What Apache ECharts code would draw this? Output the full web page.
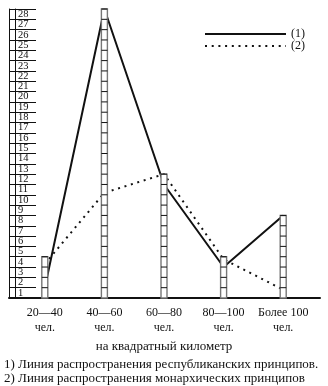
<!DOCTYPE html>
<html>
<head>
<meta charset="utf-8">
<script src="https://cdn.jsdelivr.net/npm/echarts@6/dist/echarts.min.js"></script>
<style>html,body{margin:0;padding:0;background:#fff}#c{width:328px;height:386px}</style>
</head>
<body>
<div id="c"></div>
<script>
// ---- data ----
const categories = ['20—40\nчел.', '40—60\nчел.', '60—80\nчел.', '80—100\nчел.', 'Более 100\nчел.'];
const cellCounts = [4, 28, 12, 4, 8];
const republicanLine = [1, 28, 11, 3, 8];
const monarchicLine = [3.3, 10.2, 12, 3.75, 0.8];
const yMin = 0, yMax = 28, yStep = 1;
const yTickLabels = ['1', '2', '3', '4', '5', '6', '7', '8', '9', '10', '11', '12', '13', '14',
  '15', '16', '17', '18', '19', '20', '21', '22', '23', '24', '25', '26', '27', '28'];
const seriesNames = ['(1)', '(2)'];
const xAxisTitle = 'на квадратный километр';
const notes = '1) Линия распространения республиканских принципов.\n2) Линия распространения монархических принципов';

const SERIF = '"Liberation Serif", "DejaVu Serif", serif';
const chart = echarts.init(document.getElementById('c'), null, {renderer: 'canvas'});

function renderCells(params, api) {
  const idx = api.value(0);
  const n = api.value(1);
  const w = 6;
  const children = [];
  const base = api.coord([idx, 0]);
  const top = api.coord([idx, n]);
  children.push({type: 'rect', shape: {x: base[0] - w / 2, y: top[1], width: w, height: base[1] - top[1]},
    style: {fill: '#fff', stroke: '#777', lineWidth: 1.4}});
  for (let k = 1; k < n; k++) {
    const p = api.coord([idx, k]);
    children.push({type: 'line', shape: {x1: p[0] - w / 2, y1: p[1], x2: p[0] + w / 2, y2: p[1]},
      style: {stroke: '#111', lineWidth: 1}});
  }
  children.push({type: 'line', shape: {x1: top[0] - w / 2, y1: top[1], x2: top[0] + w / 2, y2: top[1]},
    style: {stroke: '#111', lineWidth: 1}});
  return {type: 'group', children: children};
}

const option = {
  animation: false,
  backgroundColor: '#fff',
  title: {
    text: notes,
    left: -1, top: 353,
    textStyle: {fontFamily: SERIF, fontSize: 13, fontWeight: 'normal', color: '#111', lineHeight: 14}
  },
  legend: {
    orient: 'vertical',
    left: 199, top: 23,
    itemWidth: 81, itemHeight: 10, itemGap: 0,
    data: seriesNames,
    itemStyle: {color: 'rgba(0,0,0,0)', borderWidth: 0, opacity: 0},
    textStyle: {fontFamily: SERIF, fontSize: 12, color: '#111', lineHeight: 10, padding: [0, 0, 0, 0]},
    selectedMode: false
  },
  grid: [
    {left: 9, right: 8, top: 9, bottom: 88},
    {left: 15, right: 15, top: 9, bottom: 88}
  ],
  xAxis: [
    {gridIndex: 0, type: 'value', min: 0, max: 1,
      axisLine: {show: true, lineStyle: {color: '#111', width: 2}},
      axisTick: {show: false}, axisLabel: {show: false}, splitLine: {show: false}},
    {gridIndex: 1, type: 'category', data: categories,
      name: xAxisTitle, nameLocation: 'middle', nameGap: 34,
      nameTextStyle: {fontFamily: SERIF, fontSize: 13, color: '#111'},
      axisLine: {show: false}, axisTick: {show: false},
      axisLabel: {interval: 0, fontFamily: SERIF, fontSize: 12, color: '#111', lineHeight: 15, margin: 7}}
  ],
  yAxis: [
    {gridIndex: 0, type: 'category', data: yTickLabels, boundaryGap: true,
      axisLine: {show: true, lineStyle: {color: '#111', width: 1}},
      axisTick: {show: true, inside: true, length: 27, interval: 0, lineStyle: {color: '#111', width: 1}},
      axisLabel: {show: true, inside: true, interval: 0, margin: 9, align: 'left', verticalAlign: 'middle',
        fontFamily: SERIF, fontSize: 10.5, color: '#111', padding: [1, 0, 0, 0]},
      splitLine: {show: false}},
    {gridIndex: 1, type: 'value', min: yMin, max: yMax, interval: yStep,
      axisLine: {show: true, lineStyle: {color: '#111', width: 1}},
      axisTick: {show: false}, axisLabel: {show: false}, splitLine: {show: false}}
  ],
  series: [
    {name: seriesNames[0], type: 'line', xAxisIndex: 1, yAxisIndex: 1, data: republicanLine,
      symbol: 'none', z: 2, lineStyle: {color: '#111', width: 2}, itemStyle: {color: '#111'}},
    {name: seriesNames[1], type: 'line', xAxisIndex: 1, yAxisIndex: 1, data: monarchicLine,
      symbol: 'none', z: 2, lineStyle: {color: '#111', width: 2, type: [2, 4.7]}, itemStyle: {color: '#111'}},
    {name: 'cells', type: 'custom', xAxisIndex: 1, yAxisIndex: 1, z: 5,
      data: cellCounts.map(function (v, i) { return [i, v]; }),
      renderItem: renderCells}
  ]
};
chart.setOption(option);
</script>
</body>
</html>
